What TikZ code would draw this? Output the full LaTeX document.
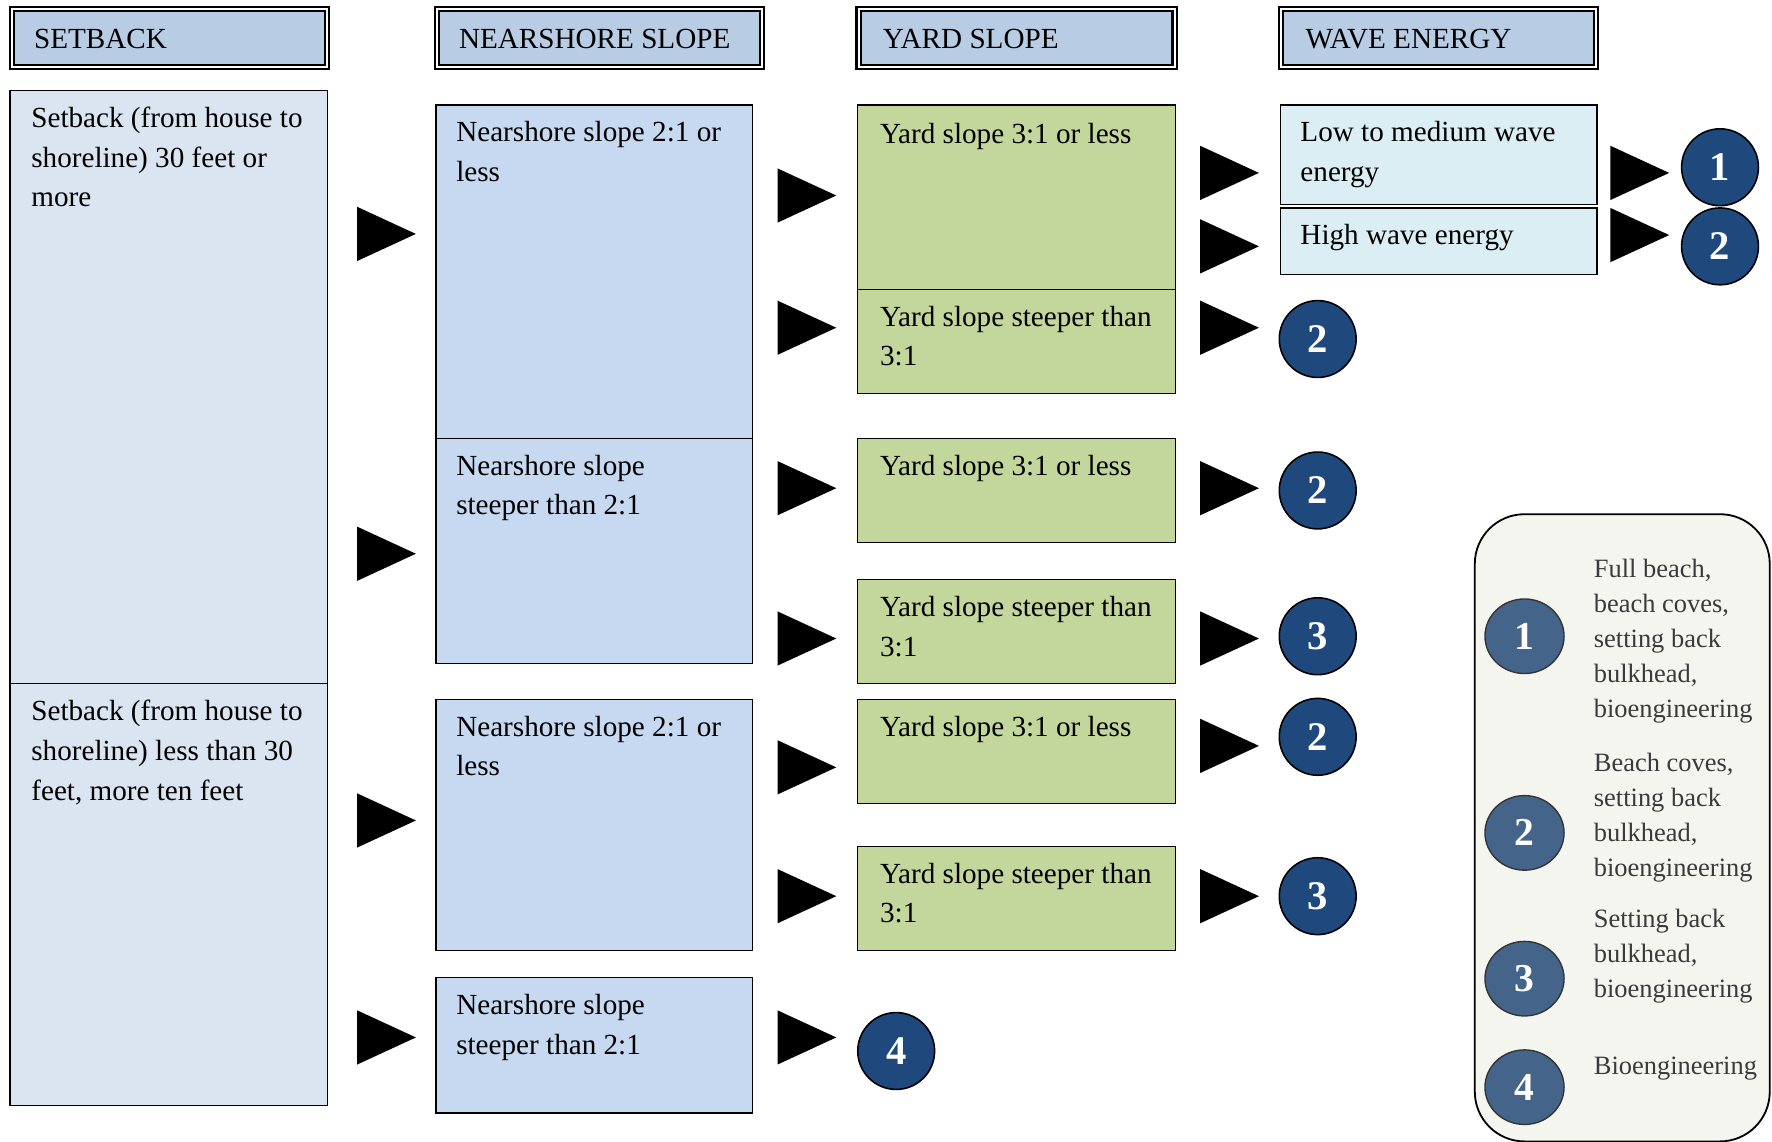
\documentclass[tikz,border=0pt]{standalone}
\usepackage{fontspec}
\setmainfont{Liberation Serif}
\usetikzlibrary{fit,calc,shapes.geometric}

\definecolor{headblue}{HTML}{B8CCE4}
\definecolor{setblue}{HTML}{DBE5F1}
\definecolor{nearblue}{HTML}{C6D9F1}
\definecolor{yardgreen}{HTML}{C3D69B}
\definecolor{wavecyan}{HTML}{DAEEF3}
\definecolor{optblue}{HTML}{1F497D}
\definecolor{keyblue}{HTML}{44648A}
\definecolor{keyfill}{HTML}{F5F5F0}
\definecolor{keytext}{HTML}{3A3A3A}

\tikzset{
  head/.style={draw=black, line width=0.9pt, double=white, double distance=0.9pt,
    fill=headblue, inner sep=0pt},
  headtext/.style={anchor=west, inner sep=0pt, font=\fontsize{12.9}{17.5}\selectfont},
  cell/.style={draw=black, line width=0.65pt, inner sep=0pt},
  celltext/.style={anchor=north west, inner sep=0pt, align=left,
    font=\fontsize{12.9}{17.5}\selectfont},
  opt/.style={circle, draw=black, line width=0.7pt, fill=optblue, text=white,
    minimum size=34pt, inner sep=0pt, font=\fontsize{18}{18}\selectfont\bfseries},
  keyopt/.style={ellipse, draw=black!80, line width=0.6pt, fill=keyblue, text=white,
    minimum width=35pt, minimum height=33pt, inner sep=0pt,
    font=\fontsize{17.5}{17.5}\selectfont\bfseries},
  keytext/.style={anchor=north west, inner sep=0pt, align=left, text=keytext,
    font=\fontsize{11.7}{15.5}\selectfont},
  pics/pointer/.style={code={\fill[black] (0,-24) -- (52,0) -- (0,24) -- cycle;}},
}

\begin{document}
\begin{tikzpicture}[x=0.5pt, y=-0.5pt]
\useasboundingbox (0,0) rectangle (1568,1010.5);

% column headers
\node[head, fit={(10.7,7.7) (289.3,59.3)}] (hset) {};
\node[headtext] at ($(hset.west)+(20,1)$) {SETBACK};
\node[head, fit={(386.7,7.7) (674.3,59.3)}] (hnear) {};
\node[headtext] at ($(hnear.west)+(20,1)$) {NEARSHORE SLOPE};
\node[head, fit={(759.7,7.7) (1039.3,59.3)}] (hyard) {};
\node[headtext] at ($(hyard.west)+(22,1)$) {YARD SLOPE};
\node[head, fit={(1133.7,7.7) (1412.3,59.3)}] (hwave) {};
\node[headtext] at ($(hwave.west)+(22,1)$) {WAVE ENERGY};

% setback
\node[cell, fill=setblue, fit={(9,80) (290,605)}] (sb1) {};
\node[celltext] at ($(sb1.north west)+(19,15)$) {Setback (from house to\\shoreline) 30 feet or\\more};
\node[cell, fill=setblue, fit={(9,605) (290,978)}] (sb2) {};
\node[celltext] at ($(sb2.north west)+(19,15)$) {Setback (from house to\\shoreline) less than 30\\feet, more ten feet};

% nearshore slope
\node[cell, fill=nearblue, fit={(386,93) (666,388)}] (ns1) {};
\node[celltext] at ($(ns1.north west)+(18,15)$) {Nearshore slope 2:1 or\\less};
\node[cell, fill=nearblue, fit={(386,388) (666,587)}] (ns2) {};
\node[celltext] at ($(ns2.north west)+(18,15)$) {Nearshore slope\\steeper than 2:1};
\node[cell, fill=nearblue, fit={(386,619) (666,841)}] (ns3) {};
\node[celltext] at ($(ns3.north west)+(18,15)$) {Nearshore slope 2:1 or\\less};
\node[cell, fill=nearblue, fit={(386,865) (666,985)}] (ns4) {};
\node[celltext] at ($(ns4.north west)+(18,15)$) {Nearshore slope\\steeper than 2:1};

% yard slope
\node[cell, fill=yardgreen, fit={(759,93) (1040,256)}] (ys1) {};
\node[celltext] at ($(ys1.north west)+(20,16)$) {Yard slope 3:1 or less};
\node[cell, fill=yardgreen, fit={(759,256) (1040,348)}] (ys2) {};
\node[celltext] at ($(ys2.north west)+(20,15)$) {Yard slope steeper than\\3:1};
\node[cell, fill=yardgreen, fit={(759,388) (1040,480)}] (ys3) {};
\node[celltext] at ($(ys3.north west)+(20,15)$) {Yard slope 3:1 or less};
\node[cell, fill=yardgreen, fit={(759,513) (1040,605)}] (ys4) {};
\node[celltext] at ($(ys4.north west)+(20,15)$) {Yard slope steeper than\\3:1};
\node[cell, fill=yardgreen, fit={(759,619) (1040,711)}] (ys5) {};
\node[celltext] at ($(ys5.north west)+(20,15)$) {Yard slope 3:1 or less};
\node[cell, fill=yardgreen, fit={(759,749) (1040,841)}] (ys6) {};
\node[celltext] at ($(ys6.north west)+(20,15)$) {Yard slope steeper than\\3:1};

% wave energy
\node[cell, fill=wavecyan, fit={(1133,93) (1413,181)}] (we1) {};
\node[celltext] at ($(we1.north west)+(18,15)$) {Low to medium wave\\energy};
\node[cell, fill=wavecyan, fit={(1133,184) (1413,243)}] (we2) {};
\node[celltext] at ($(we2.north west)+(18,15)$) {High wave energy};

% pointers
\foreach \y in {207,490,726,918}
  \pic at (316,\y) {pointer};
\foreach \y in {173,290,432,565,679,793,918}
  \pic at (688,\y) {pointer};
\foreach \y in {153,218,290,432,565,660,793}
  \pic at (1062,\y) {pointer};
\foreach \y in {153,208}
  \pic at (1425,\y) {pointer};

% options
\node[opt] (op1) at (1522,148) {1};
\node[opt] (op2) at (1522,218) {2};
\node[opt] (op3) at (1166,300) {2};
\node[opt] (op4) at (1166,434) {2};
\node[opt] (op5) at (1166,563) {3};
\node[opt] (op6) at (1166,652) {2};
\node[opt] (op7) at (1166,793) {3};
\node[opt] (op8) at (793,930) {4};

% key
\node[draw=black, line width=0.8pt, fill=keyfill, rounded corners=22pt, inner sep=0pt,
  fit={(1305,455) (1566,1010)}] (key) {};
\node[keyopt] (k1) at (1349,563) {1};
\node[keytext] at (1410,494) {Full beach,\\beach coves,\\setting back\\bulkhead,\\bioengineering};
\node[keyopt] (k2) at (1349,737) {2};
\node[keytext] at (1410,666) {Beach coves,\\setting back\\bulkhead,\\bioengineering};
\node[keyopt] (k3) at (1349,866) {3};
\node[keytext] at (1410,804) {Setting back\\bulkhead,\\bioengineering};
\node[keyopt] (k4) at (1349,962) {4};
\node[keytext] at (1410,935) {Bioengineering};
\end{tikzpicture}
\end{document}
